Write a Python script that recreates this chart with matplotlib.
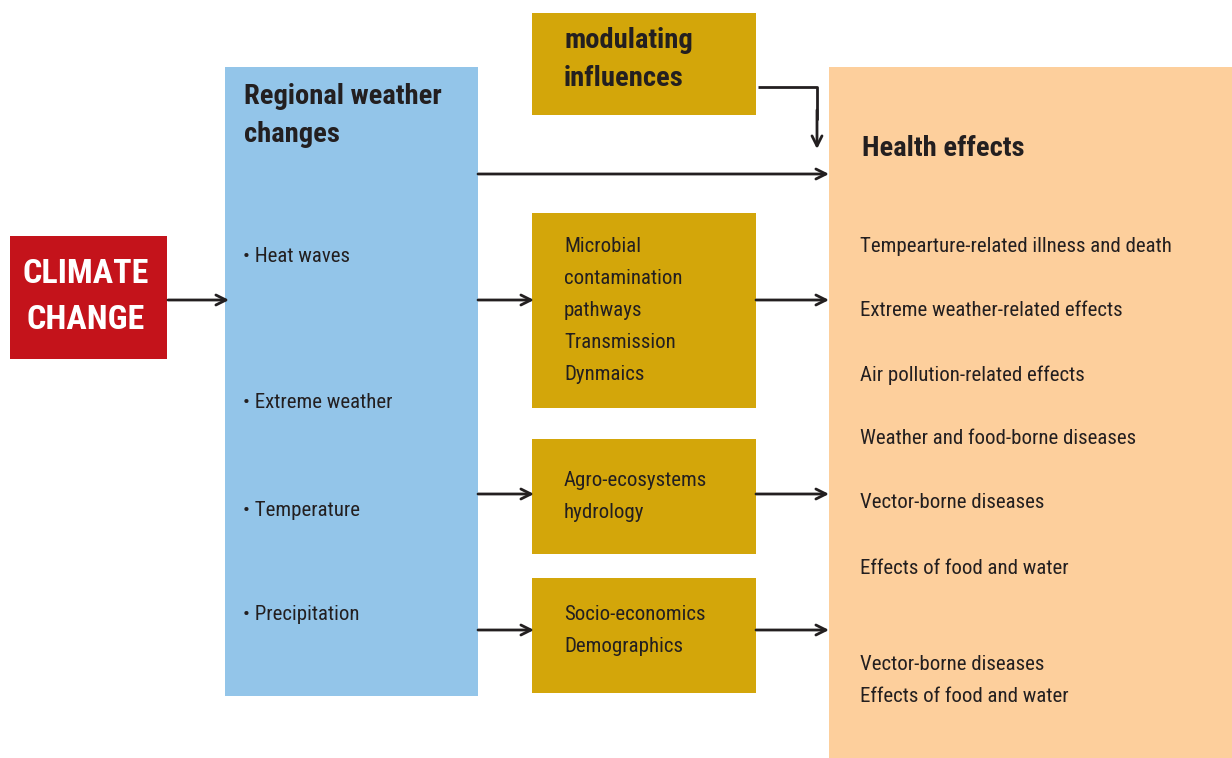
import matplotlib.pyplot as plt
from matplotlib.patches import Rectangle

FONT = ['Roboto Condensed', 'DejaVu Sans']

RED = '#C4131B'
BLUE = '#93C5E9'
GOLD = '#D3A60A'
PEACH = '#FDCF9C'
INK = '#231F20'

# text content
climate_label = ['CLIMATE', 'CHANGE']
regional_title = ['Regional weather', 'changes']
regional_items = ['Heat waves', 'Extreme weather', 'Temperature', 'Precipitation']
modulating_title = ['modulating', 'influences']
middle_boxes = [
    ['Microbial', 'contamination', 'pathways', 'Transmission', 'Dynmaics'],
    ['Agro-ecosystems', 'hydrology'],
    ['Socio-economics', 'Demographics'],
]
health_title = 'Health effects'
health_items = [
    'Tempearture-related illness and death',
    'Extreme weather-related effects',
    'Air pollution-related effects',
    'Weather and food-borne diseases',
    'Vector-borne diseases',
    'Effects of food and water',
    'Vector-borne diseases\nEffects of food and water',
]

fig = plt.figure(figsize=(12.32, 7.58), dpi=100)
ax = fig.add_axes([0, 0, 1, 1])
ax.set_xlim(0, 1232)
ax.set_ylim(758, 0)
ax.axis('off')


def box(x0, y0, x1, y1, color):
    ax.add_patch(Rectangle((x0, y0), x1 - x0, y1 - y0, facecolor=color, edgecolor='none'))


def arrow(x0, y0, x1, y1):
    ax.annotate('', xy=(x1, y1), xytext=(x0, y0),
                arrowprops=dict(arrowstyle='->', color=INK, lw=2,
                                mutation_scale=18, shrinkA=0, shrinkB=0))


box(10, 236, 167, 359, RED)
box(225, 67, 478, 696, BLUE)
box(532, 13, 756, 115, GOLD)
box(829, 67, 1232, 758, PEACH)
mid_y = [(213, 408), (439, 554), (578, 693)]
for y0, y1 in mid_y:
    box(532, y0, 756, y1, GOLD)

BODY = 15
TITLE = 20.5

# climate change
for i, t in enumerate(climate_label):
    ax.text(86, 274 + 46 * i, t, color='white', fontsize=24.5, fontweight='bold',
            family=FONT, ha='center', va='center')

# regional weather
for i, t in enumerate(regional_title):
    ax.text(244, 97 + 37 * i, t, color=INK, fontsize=TITLE, fontweight='bold',
            family=FONT, ha='left', va='center')
for t, y in zip(regional_items, [256, 403, 510, 615]):
    ax.text(243, y, '\u2022 ' + t, color=INK, fontsize=BODY, family=FONT,
            ha='left', va='center')

# modulating influences
for i, t in enumerate(modulating_title):
    ax.text(564, 41 + 37 * i, t, color=INK, fontsize=TITLE, fontweight='bold',
            family=FONT, ha='left', va='center')

# middle boxes
for lines, ytop in zip(middle_boxes, [247, 481, 615]):
    for i, t in enumerate(lines):
        ax.text(564, ytop + 32 * i, t, color=INK, fontsize=BODY, family=FONT,
                ha='left', va='center')

# health effects
ax.text(862, 148, health_title, color=INK, fontsize=TITLE, fontweight='bold',
        family=FONT, ha='left', va='center')
health_y = [247, 311, 375, 439, 503, 568, 664]
for t, y in zip(health_items, health_y):
    for j, line in enumerate(t.split('\n')):
        ax.text(860, y + 32 * j, line, color=INK, fontsize=BODY, family=FONT,
                ha='left', va='center')

# arrows
arrow(168, 300, 229, 300)
arrow(478, 174, 829, 174)
ax.plot([758, 817, 817], [87, 87, 120], color=INK, lw=2, solid_capstyle='butt')
arrow(817, 110, 817, 149)
for y in [300, 494, 630]:
    arrow(478, y, 534, y)
    arrow(756, y, 829, y)

fig.savefig('out.png', dpi=100)
